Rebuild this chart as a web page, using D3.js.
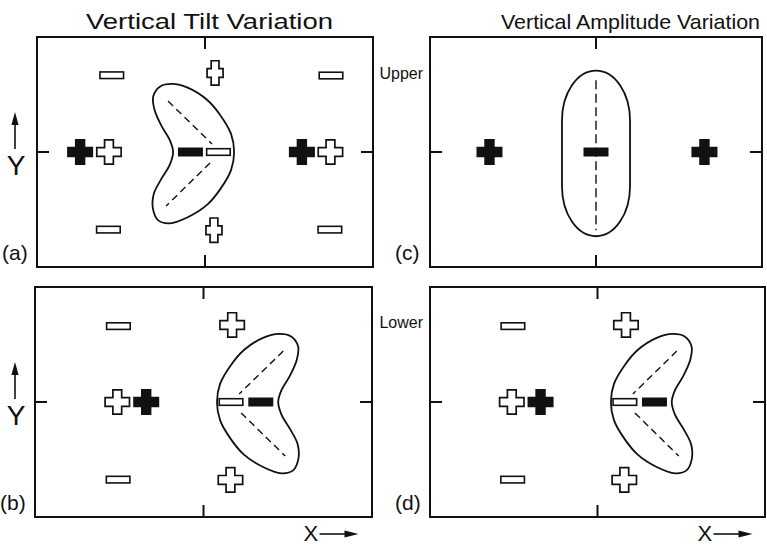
<!DOCTYPE html>
<html>
<head>
<meta charset="utf-8">
<script src="https://cdn.jsdelivr.net/npm/d3@7"></script>
<style>
  html, body { margin: 0; padding: 0; background: #fff; }
  svg { display: block; }
  text { font-family: "Liberation Sans", Arial, Helvetica, sans-serif; fill: #111; }
</style>
</head>
<body>
<svg id="chart" width="767" height="547"></svg>
<script>
// ---- Content --------------------------------------------------------------
const columnTitles = ["Vertical Tilt Variation", "Vertical Amplitude Variation"];
const rowLabels = ["Upper", "Lower"];
const panelIds = ["a", "b", "c", "d"];
const panelLetters = ["(a)", "(b)", "(c)", "(d)"];
const axisNames = ["X", "Y"];

// Schematic coordinates: x in [-6, 6], y in [-4, 4], origin at panel centre.
// kind: fillPlus / openPlus / openPlusNarrow / fillMinus / openMinus
const symbolsA = [
  { kind: "openMinus", x: -3.33, y: 2.67 },
  { kind: "openMinus", x: -3.45, y: -2.70 },
  { kind: "fillPlus", x: -4.46, y: 0 },
  { kind: "openPlus", x: -3.43, y: 0 },
  { kind: "openPlusNarrow", x: 0.36, y: 2.75 },
  { kind: "openPlusNarrow", x: 0.32, y: -2.72 },
  { kind: "fillMinus", x: -0.52, y: 0 },
  { kind: "openMinus", x: 0.48, y: 0 },
  { kind: "fillPlus", x: 3.46, y: 0 },
  { kind: "openPlus", x: 4.48, y: 0 },
  { kind: "openMinus", x: 4.50, y: 2.66 },
  { kind: "openMinus", x: 4.46, y: -2.70 }
];
const symbolsB = [
  { kind: "openMinus", x: -3.03, y: 2.64 },
  { kind: "openMinus", x: -3.04, y: -2.70 },
  { kind: "openPlus", x: -3.07, y: 0 },
  { kind: "fillPlus", x: -2.04, y: 0 },
  { kind: "openPlus", x: 1.02, y: 2.68 },
  { kind: "openPlus", x: 0.96, y: -2.71 },
  { kind: "openMinus", x: 0.98, y: 0 },
  { kind: "fillMinus", x: 2.04, y: 0 }
];
const symbolsC = [
  { kind: "fillPlus", x: -3.85, y: 0 },
  { kind: "fillMinus", x: 0, y: 0 },
  { kind: "fillPlus", x: 3.92, y: 0 }
];
const symbolsD = symbolsB.map(d => ({ ...d }));

// Bent (kidney) region outline, relative to its tip, pointing toward +x
const kidneyOutline = [
  [0, 0], [-0.11, 0.63], [-0.5, 1.29], [-0.96, 1.81], [-1.64, 2.23], [-2.21, 2.37],
  [-2.64, 2.28], [-2.89, 1.93], [-2.84, 1.46], [-2.59, 0.90], [-2.30, 0.42],
  [-2.18, 0], [-2.30, -0.45], [-2.62, -0.97], [-2.87, -1.46], [-2.90, -1.97],
  [-2.71, -2.38], [-2.30, -2.48], [-1.64, -2.26], [-0.96, -1.83], [-0.5, -1.30],
  [-0.11, -0.63]
];
// Dashed arms inside the kidney region, relative to its tip
const kidneyArms = [
  [[-2.36, 1.77], [-0.79, 0.28]],
  [[-0.86, -0.38], [-2.43, -1.88]]
];
// Tip x-position and facing direction for each panel that shows the bent region
const kidneyTips = [
  { panel: "a", x: 1.04, dir: 1 },
  { panel: "b", x: 0.48, dir: -1 },
  { panel: "d", x: 0.48, dir: -1 }
];
// Elongated region in panel (c): centre, half extents, dashed axis ends
const lobeC = { x: 0, y: -0.05, halfW: 1.23, halfH: 2.88 };
const lobeAxisC = [[0, 2.5], [0, -2.72]];

const panelSymbols = { a: symbolsA, b: symbolsB, c: symbolsC, d: symbolsD };

// ---- Layout ---------------------------------------------------------------
const frames = {
  a: { x0: 37, x1: 373, y0: 37, y1: 267 },
  b: { x0: 35, x1: 372, y0: 287, y1: 517 },
  c: { x0: 430, x1: 762, y0: 37, y1: 267 },
  d: { x0: 430, x1: 765, y0: 287, y1: 517 }
};
const INK = "#111";
const svg = d3.select("#chart");

const scales = {};
panelIds.forEach(id => {
  const f = frames[id];
  scales[id] = {
    x: d3.scaleLinear().domain([-6, 6]).range([f.x0, f.x1]),
    y: d3.scaleLinear().domain([-4, 4]).range([f.y1, f.y0])
  };
});

function crossPath(hw, hh, tx, ty) {
  return `M${-tx},${-hh}H${tx}V${-ty}H${hw}V${ty}H${tx}V${hh}H${-tx}V${ty}H${-hw}V${-ty}H${-tx}Z`;
}

panelIds.forEach((id, i) => {
  const { x, y } = scales[id];
  const g = svg.append("g").attr("class", "panel-" + id);

  // frame
  g.append("rect")
    .attr("x", x(-6)).attr("y", y(4))
    .attr("width", x(6) - x(-6)).attr("height", y(-4) - y(4))
    .attr("fill", "none").attr("stroke", INK).attr("stroke-width", 2);

  // centre ticks on the four sides
  const tk = 12;
  const ticks = [
    [x(0), y(4), x(0), y(4) + tk],
    [x(0), y(-4), x(0), y(-4) - tk],
    [x(-6), y(0), x(-6) + tk, y(0)],
    [x(6), y(0), x(6) - tk, y(0)]
  ];
  g.selectAll("line.tick").data(ticks).join("line")
    .attr("class", "tick")
    .attr("x1", d => d[0]).attr("y1", d => d[1])
    .attr("x2", d => d[2]).attr("y2", d => d[3])
    .attr("stroke", INK).attr("stroke-width", 2);

  // bent region
  kidneyTips.filter(k => k.panel === id).forEach(k => {
    const line = d3.line()
      .x(p => x(k.x + k.dir * p[0]))
      .y(p => y(p[1]))
      .curve(d3.curveCatmullRomClosed.alpha(0.5));
    g.append("path").attr("d", line(kidneyOutline))
      .attr("fill", "none").attr("stroke", INK).attr("stroke-width", 1.8);
    g.selectAll("line.arm").data(kidneyArms).join("line")
      .attr("class", "arm")
      .attr("x1", d => x(k.x + k.dir * d[0][0])).attr("y1", d => y(d[0][1]))
      .attr("x2", d => x(k.x + k.dir * d[1][0])).attr("y2", d => y(d[1][1]))
      .attr("stroke", INK).attr("stroke-width", 1.4)
      .attr("stroke-dasharray", "7,4.5");
  });

  // elongated region
  if (id === "c") {
    const w = x(lobeC.x + lobeC.halfW) - x(lobeC.x - lobeC.halfW);
    g.append("rect")
      .attr("x", x(lobeC.x - lobeC.halfW)).attr("y", y(lobeC.y + lobeC.halfH))
      .attr("width", w).attr("height", y(lobeC.y - lobeC.halfH) - y(lobeC.y + lobeC.halfH))
      .attr("rx", w / 2).attr("ry", 50)
      .attr("fill", "none").attr("stroke", INK).attr("stroke-width", 1.8);
    g.append("line")
      .attr("x1", x(lobeAxisC[0][0])).attr("y1", y(lobeAxisC[0][1]))
      .attr("x2", x(lobeAxisC[1][0])).attr("y2", y(lobeAxisC[1][1]))
      .attr("stroke", INK).attr("stroke-width", 1.4)
      .attr("stroke-dasharray", "9,4.5");
  }

  // charge symbols
  const sym = g.selectAll("g.sym").data(panelSymbols[id]).join("g")
    .attr("class", "sym")
    .attr("transform", d => `translate(${x(d.x)},${y(d.y)})`);
  sym.each(function (d) {
    const s = d3.select(this);
    if (d.kind === "fillPlus") {
      s.append("path").attr("d", crossPath(13, 13, 5.2, 5.2)).attr("fill", INK);
    } else if (d.kind === "openPlus") {
      s.append("path").attr("d", crossPath(12.2, 12.2, 4.4, 4.4))
        .attr("fill", "#fff").attr("stroke", INK).attr("stroke-width", 1.7);
    } else if (d.kind === "openPlusNarrow") {
      s.append("path").attr("d", crossPath(8, 12.2, 3.9, 4.4))
        .attr("fill", "#fff").attr("stroke", INK).attr("stroke-width", 1.7);
    } else if (d.kind === "fillMinus") {
      s.append("rect").attr("x", -12.5).attr("y", -4.5).attr("width", 25).attr("height", 9)
        .attr("fill", INK);
    } else if (d.kind === "openMinus") {
      s.append("rect").attr("x", -11.8).attr("y", -3.3).attr("width", 23.6).attr("height", 6.6)
        .attr("fill", "#fff").attr("stroke", INK).attr("stroke-width", 1.6);
    }
  });

  // panel letter
  svg.append("text")
    .attr("x", x(-6) - 35).attr("y", y(-4) - 7)
    .attr("font-size", 21)
    .text(panelLetters[i]);
});

// column titles
svg.append("text").attr("x", 86).attr("y", 29).attr("font-size", 21.5)
  .attr("textLength", 247).attr("lengthAdjust", "spacingAndGlyphs")
  .text(columnTitles[0]);
svg.append("text").attr("x", 501).attr("y", 29).attr("font-size", 21)
  .attr("textLength", 259).attr("lengthAdjust", "spacingAndGlyphs")
  .text(columnTitles[1]);

// row labels beside the right column
svg.append("text").attr("x", 423).attr("y", 79).attr("font-size", 16)
  .attr("text-anchor", "end").text(rowLabels[0]);
svg.append("text").attr("x", 423).attr("y", 328).attr("font-size", 16)
  .attr("text-anchor", "end").text(rowLabels[1]);

// Y arrows on the left column
["a", "b"].forEach(id => {
  const cy = scales[id].y(0);
  const ax = 15;
  svg.append("line").attr("x1", ax).attr("x2", ax)
    .attr("y1", cy - 28).attr("y2", cy - 3)
    .attr("stroke", INK).attr("stroke-width", 1.6);
  svg.append("path")
    .attr("d", `M${ax},${cy - 40}L${ax - 3.6},${cy - 27}L${ax + 3.6},${cy - 27}Z`)
    .attr("fill", INK);
  svg.append("text").attr("x", ax + 1).attr("y", cy + 23)
    .attr("font-size", 28).attr("text-anchor", "middle").text(axisNames[1]);
});

// X arrows below the bottom row
["b", "d"].forEach(id => {
  const cx = scales[id].x(0);
  const ty = 534;
  const sx = cx + 100;
  svg.append("text").attr("x", sx).attr("y", 541)
    .attr("font-size", 22).text(axisNames[0]);
  svg.append("line").attr("x1", sx + 16).attr("x2", sx + 42)
    .attr("y1", ty).attr("y2", ty)
    .attr("stroke", INK).attr("stroke-width", 1.6);
  svg.append("path")
    .attr("d", `M${sx + 55},${ty}L${sx + 41},${ty - 3.6}L${sx + 41},${ty + 3.6}Z`)
    .attr("fill", INK);
});
</script>
</body>
</html>
